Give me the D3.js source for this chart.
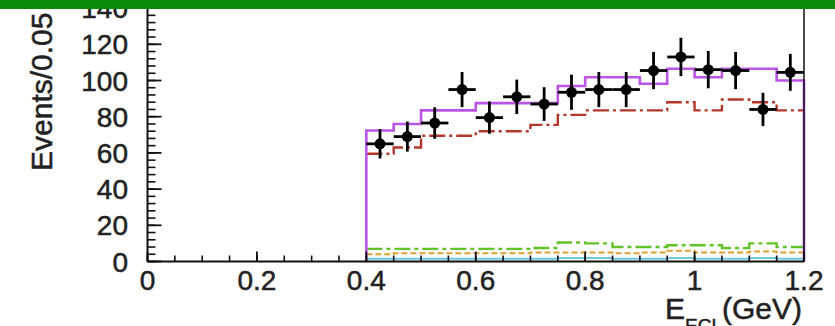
<!DOCTYPE html>
<html><head><meta charset="utf-8">
<script src="https://cdn.jsdelivr.net/npm/d3@7"></script>
<style>html,body{margin:0;padding:0;background:#fff}svg{display:block}</style>
</head><body>
<svg id="chart" width="835" height="326"></svg>
<script>
// ---- data ----
const binLow      = [0.40,0.45,0.50,0.55,0.60,0.65,0.70,0.75,0.80,0.85,0.90,0.95,1.00,1.05,1.10,1.15];
const binWidth    = 0.05;
const dataCounts  = [65, 69, 76.5, 95, 79.5, 91, 87, 93.5, 95, 95, 105.5, 113, 106, 105.5, 84, 104.5];
const dataErrors  = [8.1, 8.3, 8.7, 9.7, 8.9, 9.5, 9.3, 9.7, 9.7, 9.7, 10.3, 10.6, 10.3, 10.3, 9.2, 10.2];
const totalFit    = [72.4, 76, 83.5, 83.5, 87.5, 87.5, 87.5, 97, 101.8, 101.8, 98.2, 106.5, 101.8, 106.5, 106.5, 100];
const redBkg      = [59.5, 63, 69.5, 69.5, 72, 72, 75.5, 81, 83.5, 83.5, 83.5, 88, 83.5, 89.5, 88, 83.5];
const greenComp   = [7, 7, 7, 7, 7, 7, 7.5, 10.5, 10, 8, 8, 9, 9, 7.5, 10, 8];
const orangeComp  = [4, 4.5, 4.5, 4.5, 4.5, 4.5, 5, 5, 5, 4.5, 5, 6, 5, 5, 5.5, 5];
const cyanComp    = [1.5, 1.5, 1.5, 1.5, 1.5, 1.5, 1.5, 2, 2, 1.5, 1.5, 2, 1.5, 1.5, 2, 1.5];
const xTicks      = [0, 0.2, 0.4, 0.6, 0.8, 1.0, 1.2];
const xTickLabels = ["0", "0.2", "0.4", "0.6", "0.8", "1", "1.2"];
const yTicks      = [0, 20, 40, 60, 80, 100, 120, 140];
const yTickLabels = ["0", "20", "40", "60", "80", "100", "120", "140"];
const yTitle = "Events/0.05 GeV";

// ---- layout ----
const svg = d3.select("#chart");
const X0 = 147.5, X1 = 804, Y0 = 261.5;
const x = d3.scaleLinear().domain([0, 1.2]).range([X0, X1]);
const y = d3.scaleLinear().domain([0, 145]).range([Y0, Y0 - 145 * 1.81]);
const font = "'Liberation Sans', Arial, Helvetica, sans-serif";
const txt = "#222";

function styleText(sel, size) {
  return sel.attr("font-family", font).attr("font-size", size).attr("fill", txt)
    .attr("stroke", txt).attr("stroke-width", 0.5);
}

// histogram step path
function stepPts(vals, closed) {
  const pts = [];
  if (closed) pts.push([binLow[0], 0]);
  vals.forEach((v, i) => { pts.push([binLow[i], v]); pts.push([binLow[i] + binWidth, v]); });
  if (closed) pts.push([binLow[binLow.length - 1] + binWidth, 0]);
  return pts;
}
const line = d3.line().x(d => x(d[0])).y(d => y(d[1]));

const g = svg.append("g");

// components near bottom
g.append("path").attr("d", line(stepPts(cyanComp, false)))
  .attr("fill", "none").attr("stroke", "#6cc8e4").attr("stroke-width", 2);
g.append("path").attr("d", line(stepPts(orangeComp, false)))
  .attr("fill", "none").attr("stroke", "#e0a030").attr("stroke-width", 2).attr("stroke-dasharray", "6,3");
g.append("path").attr("d", line(stepPts(greenComp, false)))
  .attr("fill", "none").attr("stroke", "#62c22a").attr("stroke-width", 2.4).attr("stroke-dasharray", "16,4,4,4");

// red background
g.append("path").attr("d", line(stepPts(redBkg, false)))
  .attr("fill", "none").attr("stroke", "#b3372b").attr("stroke-width", 2.4).attr("stroke-dasharray", "16,4,3,4");

// total fit (magenta)
g.append("path").attr("d", line(stepPts(totalFit, true)))
  .attr("fill", "none").attr("stroke", "#bb55e6").attr("stroke-width", 2.6);

// axes frame
g.append("line").attr("x1", X0).attr("x2", X0).attr("y1", y(145)).attr("y2", Y0).attr("stroke", "#111").attr("stroke-width", 2);
g.append("line").attr("x1", X0).attr("x2", X1).attr("y1", Y0).attr("y2", Y0).attr("stroke", "#111").attr("stroke-width", 2);
g.append("line").attr("x1", X1).attr("x2", X1).attr("y1", y(145)).attr("y2", Y0).attr("stroke", "#111").attr("stroke-width", 1.5);

// y ticks (inward)
const yMinor = d3.range(0, 145, 4);
g.selectAll(".ymin").data(yMinor).join("line")
  .attr("x1", X0).attr("x2", X0 + 8).attr("y1", d => y(d)).attr("y2", d => y(d))
  .attr("stroke", "#111").attr("stroke-width", 1.6);
g.selectAll(".ymaj").data(yTicks).join("line")
  .attr("x1", X0).attr("x2", X0 + 14).attr("y1", d => y(d)).attr("y2", d => y(d))
  .attr("stroke", "#111").attr("stroke-width", 1.8);
styleText(g.selectAll(".ylab").data(yTicks).join("text"), 28)
  .attr("x", 128).attr("y", d => y(d)).attr("dy", "0.36em")
  .attr("text-anchor", "end")
  .text((d, i) => yTickLabels[i]);

// x ticks (inward)
const xMinor = d3.range(0, 1.2001, 0.05);
g.selectAll(".xmin").data(xMinor).join("line")
  .attr("x1", d => x(d)).attr("x2", d => x(d)).attr("y1", Y0).attr("y2", Y0 - 6)
  .attr("stroke", "#111").attr("stroke-width", 1.6);
g.selectAll(".xmaj").data(xTicks).join("line")
  .attr("x1", d => x(d)).attr("x2", d => x(d)).attr("y1", Y0).attr("y2", Y0 - 10)
  .attr("stroke", "#111").attr("stroke-width", 1.8);
styleText(g.selectAll(".xlab").data(xTicks).join("text"), 28)
  .attr("x", d => x(d)).attr("y", 290)
  .attr("text-anchor", "middle")
  .text((d, i) => xTickLabels[i]);

// data points with error bars
const pts = g.append("g");
dataCounts.forEach((v, i) => {
  const c = binLow[i] + binWidth / 2;
  pts.append("line").attr("x1", x(binLow[i])).attr("x2", x(binLow[i] + binWidth))
    .attr("y1", y(v)).attr("y2", y(v)).attr("stroke", "#000").attr("stroke-width", 2.8);
  pts.append("line").attr("x1", x(c)).attr("x2", x(c))
    .attr("y1", y(v - dataErrors[i])).attr("y2", y(v + dataErrors[i])).attr("stroke", "#000").attr("stroke-width", 2.8);
  pts.append("circle").attr("cx", x(c)).attr("cy", y(v)).attr("r", 5.5).attr("fill", "#000");
});

// axis titles
styleText(svg.append("text"), 30).attr("transform", "translate(52,171) rotate(-90)")
  .attr("text-anchor", "start")
  .text(yTitle);
const xt = styleText(svg.append("text"), 30).attr("x", 802).attr("y", 319)
  .attr("text-anchor", "end");
xt.append("tspan").text("E");
xt.append("tspan").attr("font-size", 19).attr("dy", 13).text("ECL");
xt.append("tspan").attr("dy", -13).text("(GeV)");

// green band on top
svg.append("rect").attr("x", 0).attr("y", 0).attr("width", 835).attr("height", 9).attr("fill", "#0b8a0b");
</script>
</body></html>
